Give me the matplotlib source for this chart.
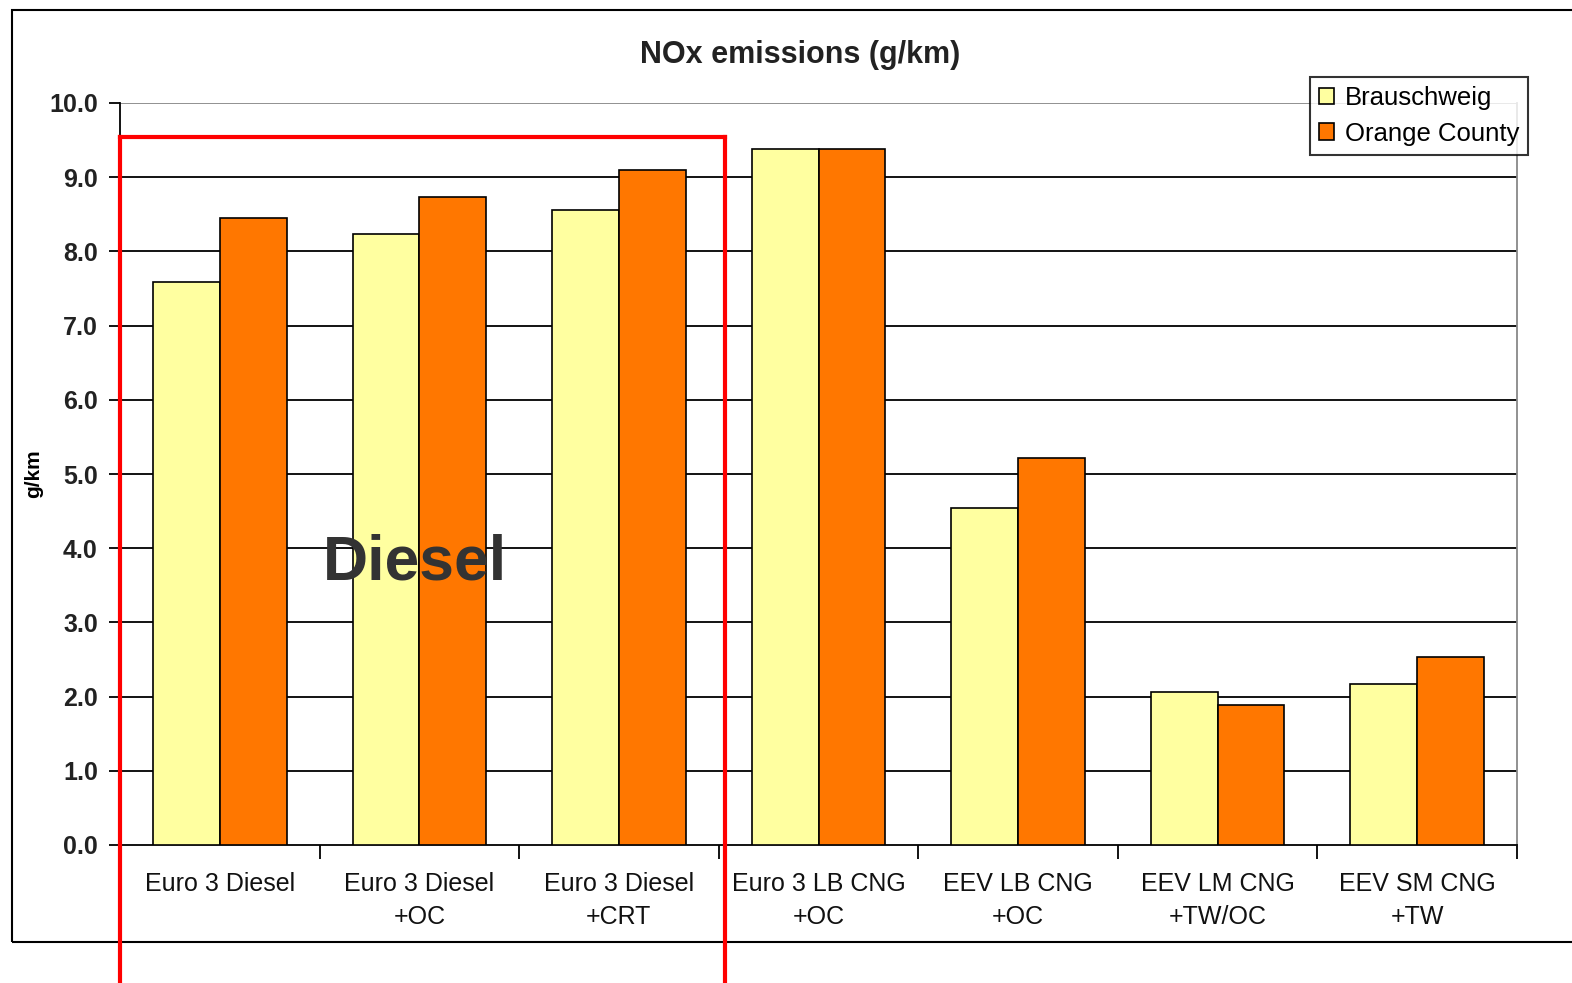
import numpy as np
import matplotlib.pyplot as plt
from matplotlib.lines import Line2D
from matplotlib.patches import Rectangle

# NOx emissions per bus technology
categories = ['Euro 3 Diesel', 'Euro 3 Diesel\n+OC', 'Euro 3 Diesel\n+CRT', 'Euro 3 LB CNG\n+OC',
              'EEV LB CNG\n+OC', 'EEV LM CNG\n+TW/OC', 'EEV SM CNG\n+TW']
brauschweig = [7.59, 8.23, 8.56, 9.38, 4.54, 2.06, 2.17]
orange_county = [8.45, 8.73, 9.10, 9.38, 5.22, 1.89, 2.53]
yticks = [0, 1, 2, 3, 4, 5, 6, 7, 8, 9, 10]

W, H = 1572, 983
fig = plt.figure(figsize=(W / 100, H / 100), dpi=100)
fig.patch.set_facecolor('white')

ax = fig.add_axes([120 / W, 1 - 845 / H, (1517 - 120) / W, (845 - 103) / H])
x = np.arange(len(categories))
bw = 0.335
ax.bar(x - bw / 2, brauschweig, bw, color='#FFFFA0', edgecolor='black', linewidth=1.2,
       label='Brauschweig', zorder=3)
ax.bar(x + bw / 2, orange_county, bw, color='#FF7700', edgecolor='black', linewidth=1.2,
       label='Orange County', zorder=3)

ax.set_xlim(-0.5, len(categories) - 0.5)
ax.set_ylim(0, 10)
ax.set_yticks(yticks)
ax.set_yticklabels([f'{v:.1f}' for v in yticks], fontsize=18, fontweight='bold', color='#222222',
                   family='Liberation Sans')
for v in yticks[1:-1]:
    ax.axhline(v, color='black', linewidth=1.3, zorder=1)
ax.axhline(10, color='#888888', linewidth=1.3, zorder=1)

# category labels between boundary ticks
ax.set_xticks(np.arange(-0.5, len(categories), 1.0))
ax.set_xticklabels([])
ax.tick_params(axis='x', length=10, width=1.3, direction='out')
ax.tick_params(axis='y', length=8, width=1.3, direction='out', pad=8)
for i, c in enumerate(categories):
    ax.text(i, -0.36, c, ha='center', va='top', fontsize=18, family='Liberation Sans',
            color='#111111', linespacing=1.5)

ax.spines['top'].set_visible(False)
ax.spines['right'].set_color('#888888')
ax.spines['left'].set_linewidth(1.3)
ax.spines['bottom'].set_linewidth(1.3)
ax.spines['right'].set_linewidth(1.3)

ax.set_ylabel('g/km', fontsize=15, fontweight='bold', family='Liberation Sans', labelpad=4)
fig.text(800 / W, 1 - 55 / H, 'NOx emissions (g/km)', ha='center', va='center', fontsize=22,
         fontweight='bold', family='Liberation Sans', color='#222222')

leg = fig.legend(loc='upper left', bbox_to_anchor=(1310 / W, 1 - 77 / H), borderaxespad=0,
                 frameon=True, fancybox=False, edgecolor='black', borderpad=0.35,
                 handlelength=0.6, handleheight=0.6, handletextpad=0.4, labelspacing=0.45,
                 prop={'family': 'Liberation Sans', 'size': 18.5})
leg.get_frame().set_linewidth(1.5)

# outer chart frame
fig.add_artist(Rectangle((12 / W, 1 - 942 / H), 1.1, (942 - 10) / H, transform=fig.transFigure,
                         fill=False, edgecolor='black', linewidth=1.5))

# red box marking diesel group
rx0, rx1, ry = 120 / W, 725 / W, 1 - 137 / H
for xs, ys in [([rx0, rx0], [0, ry]), ([rx0, rx1], [ry, ry]), ([rx1, rx1], [ry, 0])]:
    fig.add_artist(Line2D(xs, ys, transform=fig.transFigure, color='#FF0000', linewidth=3))

fig.text(415 / W, 1 - 563 / H, 'Diesel', ha='center', va='center', fontsize=45,
         fontweight='bold', family='Liberation Sans', color='#333333')

fig.savefig('out.png', dpi=100)
